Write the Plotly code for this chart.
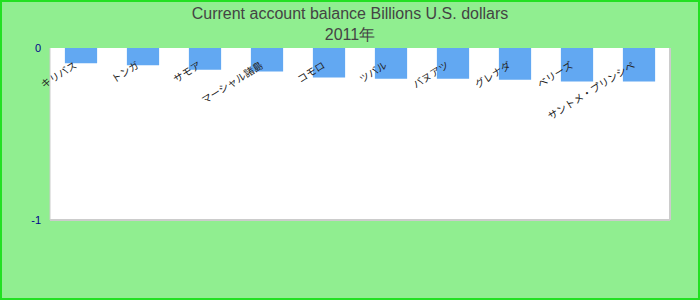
import plotly.graph_objects as go

categories = ["キリバス", "トンガ", "サモア", "マーシャル諸島", "コモロ", "ツバル",
              "バヌアツ", "グレナダ", "ベリーズ", "サントメ・プリンシペ"]
values = [-0.089, -0.101, -0.126, -0.136, -0.172, -0.179, -0.179, -0.185, -0.195, -0.195]
title_text = "Current account balance Billions U.S. dollars<br>2011年"
y_ticks = [0, -1]

W, H = 700, 300
ml, mr, mt, mb = 50, 30, 48, 80
pw, ph = W - ml - mr, H - mt - mb

fig = go.Figure(go.Bar(x=categories, y=values, marker=dict(color="#62a8f2", line=dict(width=0))))

fig.update_layout(
    width=W, height=H,
    margin=dict(l=ml, r=mr, t=mt, b=mb),
    paper_bgcolor="#90ee90",
    plot_bgcolor="#ffffff",
    bargap=0.48,
    showlegend=False,
    title=dict(text=title_text, x=0.5, xanchor="center", yref="container", y=1 - 19 / H,
               yanchor="middle",
               font=dict(family="Liberation Sans, Arial, sans-serif", size=16, color="#444444")),
    font=dict(family="Liberation Sans, Arial, sans-serif"),
    xaxis=dict(anchor="free", position=1, side="bottom", tickangle=-32, showgrid=False,
               showline=False, zeroline=False, ticks="outside", ticklen=7,
               tickcolor="rgba(0,0,0,0)", ticklabelshift=-6,
               tickfont=dict(family="Noto Sans CJK JP, sans-serif", size=10, color="#222222")),
    yaxis=dict(range=[-1, 0], tickvals=y_ticks, ticktext=[str(v) for v in y_ticks],
               showgrid=False, zeroline=False, showline=False, ticks="", ticklabelstandoff=8,
               tickfont=dict(family="Liberation Sans, Arial, sans-serif", size=11, color="#00008b")),
)

border = "#cccccc"
fig.add_shape(type="line", xref="x domain", yref="y domain", x0=0, x1=0, y0=0, y1=1,
              line=dict(color=border, width=1))
fig.add_shape(type="line", xref="x domain", yref="y domain", x0=0, x1=1, y0=0, y1=0,
              line=dict(color=border, width=2))
fig.add_shape(type="line", xref="x domain", yref="y domain", x0=1, x1=1, y0=0, y1=1,
              line=dict(color=border, width=2))
fig.add_shape(type="rect", xref="paper", yref="paper",
              x0=-(ml - 1) / pw, x1=1 + (mr - 1) / pw,
              y0=-(mb - 1) / ph, y1=1 + (mt - 1) / ph,
              line=dict(color="#22e022", width=2), layer="above")

fig.write_html("out.html")
